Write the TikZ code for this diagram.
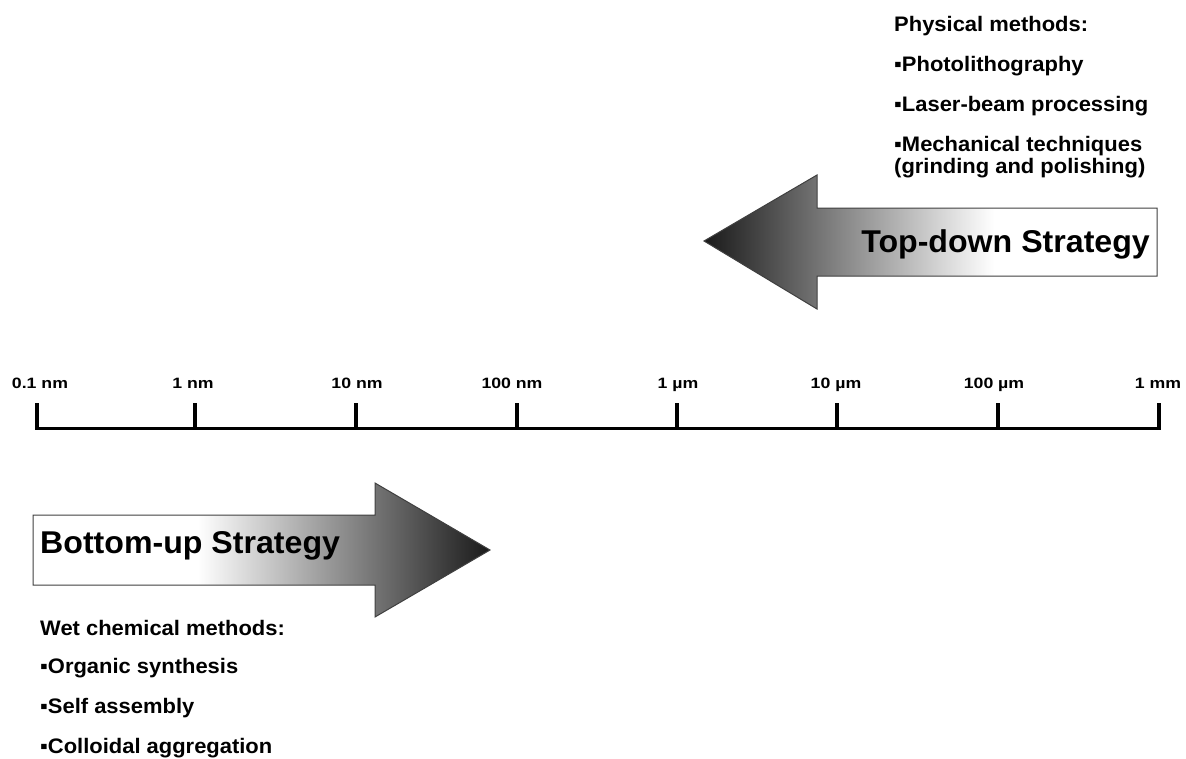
\documentclass[tikz,border=0pt]{standalone}
\usepackage{fontspec}
\setmainfont{Liberation Sans}
\newfontfamily\tickfont{Liberation Sans}[FakeStretch=1.18]
\newfontfamily\bodyfont{Liberation Sans}[FakeStretch=1.045]
\newfontfamily\stratfont{Liberation Sans}[FakeStretch=1.02]
\definecolor{tipc}{gray}{0.1}
\definecolor{bordc}{gray}{0.25}
\pgfdeclarehorizontalshading{tdshade}{100bp}{color(0bp)=(tipc); color(25bp)=(tipc); color(57bp)=(white); color(100bp)=(white)}
\pgfdeclarehorizontalshading{bushade}{100bp}{color(0bp)=(white); color(43bp)=(white); color(75bp)=(tipc); color(100bp)=(tipc)}
\tikzset{
  ticklabel/.style={anchor=base, inner sep=0pt, font=\tickfont\bfseries\fontsize{15}{18}\selectfont},
  bodytext/.style={anchor=base west, inner sep=0pt, font=\bodyfont\bfseries\fontsize{21}{25}\selectfont},
  strattext/.style={inner sep=0pt, font=\stratfont\bfseries\fontsize{31.5}{36}\selectfont},
  tickmark/.style={line width=4pt},
  axisline/.style={line width=3pt},
  arrowbody/.style={draw=bordc, line width=1pt, line join=miter}
}
\begin{document}
\begin{tikzpicture}[x=1pt, y=-1pt]
\useasboundingbox (0,0) rectangle (1186,758);
% top-down arrow
\path[arrowbody, shading=tdshade]
  (704,241) -- (817,175) -- (817,208) -- (1157,208) -- (1157,276) -- (817,276) -- (817,309) -- cycle;
\node[strattext, anchor=base east] (td) at (1150,252) {Top-down Strategy};
% bottom-up arrow
\path[arrowbody, shading=bushade]
  (33,515) -- (375,515) -- (375,483) -- (490,550) -- (375,617) -- (375,585) -- (33,585) -- cycle;
\node[strattext, anchor=base west] (bu) at (40,553) {Bottom-up Strategy};
% axis
\foreach \i/\x in {0/37,1/195,2/356,3/517,4/677,5/837,6/998,7/1159}{
  \coordinate (b\i) at (\x,428);
  \coordinate (t\i) at (\x,403);
}
\draw[axisline] (b0) -- (b7);
\foreach \i in {0,...,7}{ \draw[tickmark] (t\i) -- ([yshift=-1.5pt]b\i); }
\node[ticklabel] (l0) at (40,388) {0.1 nm};
\node[ticklabel] (l1) at (193,388) {1 nm};
\node[ticklabel] (l2) at (357,388) {10 nm};
\node[ticklabel] (l3) at (512,388) {100 nm};
\node[ticklabel] (l4) at (678,388) {1 µm};
\node[ticklabel] (l5) at (836,388) {10 µm};
\node[ticklabel] (l6) at (994,388) {100 µm};
\node[ticklabel] (l7) at (1158,388) {1 mm};
% physical methods
\node[bodytext] (p0) at (894,31) {Physical methods:};
\node[bodytext] (p1) at (894,71) {▪Photolithography};
\node[bodytext] (p2) at (894,111) {▪Laser-beam processing};
\node[bodytext] (p3) at (894,151) {▪Mechanical techniques};
\node[bodytext] (p4) at (894,173) {(grinding and polishing)};
% wet chemical methods
\node[bodytext] (w0) at (40,635) {Wet chemical methods:};
\node[bodytext] (w1) at (40,673) {▪Organic synthesis};
\node[bodytext] (w2) at (40,713) {▪Self assembly};
\node[bodytext] (w3) at (40,753) {▪Colloidal aggregation};
\end{tikzpicture}
\end{document}
